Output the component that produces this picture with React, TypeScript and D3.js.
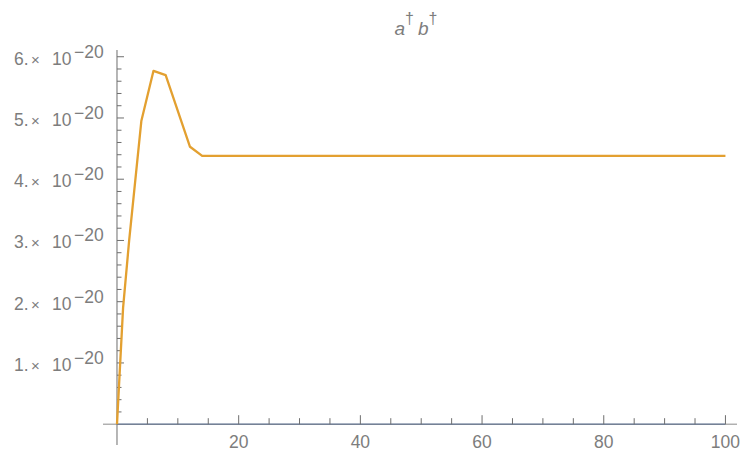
import React from "react";
import * as d3 from "d3";

// Correlator <a†b†> versus time (values in units of 1e-20)
const times = [0, 1, 2, 4, 6, 8, 12, 14, 20, 40, 60, 80, 100];
const abValues = [0, 1.9, 3.0, 4.95, 5.77, 5.7, 4.53, 4.38, 4.38, 4.38, 4.38, 4.38, 4.38];
const zeroSeries = [0, 0, 0, 0, 0, 0, 0, 0, 0, 0, 0, 0, 0];

const xMajorTicks = [20, 40, 60, 80, 100];
const yMajorTicks = [1, 2, 3, 4, 5, 6];
const yMantissaLabels = ["1.", "2.", "3.", "4.", "5.", "6."];
const exponentLabel = "\u221220";

const W = 744;
const H = 455;

export default function App() {
  const x = d3.scaleLinear().domain([-2.3, 101.9]).range([103, 737]);
  const y = d3.scaleLinear().domain([-0.34, 6.11]).range([445, 50]);

  const line = d3
    .line<[number, number]>()
    .x((d) => x(d[0]))
    .y((d) => y(d[1]));

  const abPts: [number, number][] = times.map((t, i) => [t, abValues[i]]);
  const zeroPts: [number, number][] = times.map((t, i) => [t, zeroSeries[i]]);

  const x0 = x(0);
  const y0 = y(0);

  const xMinor = d3.range(5, 101, 5).filter((v) => v % 20 !== 0);
  const yMinor = d3.range(0.2, 6.05, 0.2).filter((v) => Math.abs(v - Math.round(v)) > 0.05);

  const axisColor = "#6e6e6e";
  const textColor = "#7d7d7d";
  const font = "'Liberation Sans', Arial, sans-serif";

  return (
    <svg
      width={W}
      height={H}
      style={{ position: "absolute", left: 0, top: 0, background: "#fff" }}
      fontFamily={font}
    >
      {/* title */}
      <text x={416} y={35} fill={textColor} fontSize={19} textAnchor="middle" fontStyle="italic">
        <tspan>a</tspan>
        <tspan dy={-11} fontSize={16} fontStyle="normal">†</tspan>
        <tspan dy={11} dx={4}>b</tspan>
        <tspan dy={-11} fontSize={16} fontStyle="normal">†</tspan>
      </text>

      {/* zero series lies along the axis */}
      <path d={line(zeroPts) || ""} fill="none" stroke="#5E81B5" strokeWidth={1.6} opacity={0.8} />

      {/* axes */}
      <line x1={x.range()[0]} x2={x.range()[1]} y1={y0} y2={y0} stroke={axisColor} strokeWidth={1} opacity={0.8} />
      <line x1={x0} x2={x0} y1={y.range()[0]} y2={y.range()[1]} stroke={axisColor} strokeWidth={1} />

      {/* x ticks */}
      {xMajorTicks.map((v) => (
        <g key={"xm" + v}>
          <line x1={x(v)} x2={x(v)} y1={y0} y2={y0 - 9} stroke={axisColor} strokeWidth={1} />
          <text x={x(v)} y={y0 + 24} fill={textColor} fontSize={17.5} textAnchor="middle">
            {v}
          </text>
        </g>
      ))}
      {xMinor.map((v) => (
        <line key={"xn" + v} x1={x(v)} x2={x(v)} y1={y0} y2={y0 - 6} stroke={axisColor} strokeWidth={1} />
      ))}

      {/* y ticks */}
      {yMinor.map((v) => (
        <line key={"yn" + v} x1={x0} x2={x0 + 4.5} y1={y(v)} y2={y(v)} stroke={axisColor} strokeWidth={1} />
      ))}
      {yMajorTicks.map((v, i) => (
        <g key={"ym" + v}>
          <line x1={x0} x2={x0 + 7} y1={y(v)} y2={y(v)} stroke={axisColor} strokeWidth={1} />
          <text y={y(v) + 8} fill={textColor} fontSize={17.5}>
            <tspan x={x0 - 103}>{yMantissaLabels[i]}</tspan>
            <tspan x={x0 - 86} fontSize={15}>×</tspan>
            <tspan x={x0 - 65}>10</tspan>
            <tspan x={x0 - 43} dy={-7}>{exponentLabel}</tspan>
          </text>
        </g>
      ))}

      {/* correlator curve */}
      <path
        d={line(abPts) || ""}
        fill="none"
        stroke="#E3A030"
        strokeWidth={2.3}
        strokeLinejoin="round"
      />
    </svg>
  );
}
